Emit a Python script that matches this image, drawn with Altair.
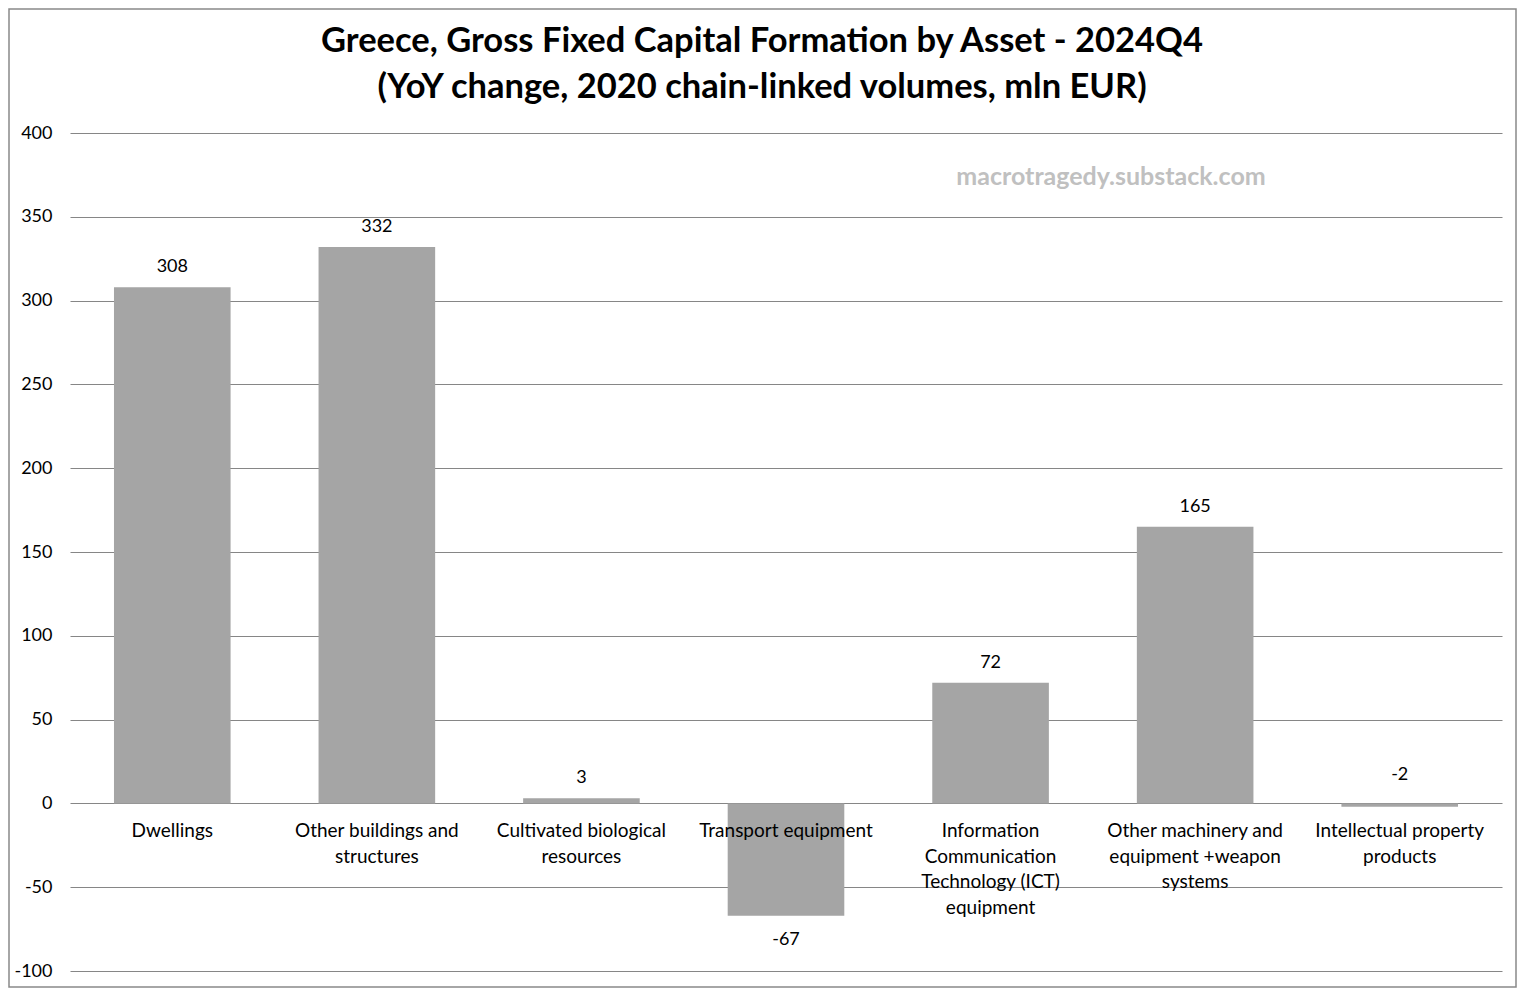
import altair as alt
import pandas as pd

categories = [
    "Dwellings",
    "Other buildings and\nstructures",
    "Cultivated biological\nresources",
    "Transport equipment",
    "Information\nCommunication\nTechnology (ICT)\nequipment",
    "Other machinery and\nequipment +weapon\nsystems",
    "Intellectual property\nproducts",
]
values = [308, 332, 3, -67, 72, 165, -2]
y_ticks = [-100, -50, 0, 50, 100, 150, 200, 250, 300, 350, 400]
title_line1 = "Greece, Gross Fixed Capital Formation by Asset - 2024Q4"
title_line2 = "(YoY change, 2020 chain-linked volumes, mln EUR)"
watermark = "macrotragedy.substack.com"

df = pd.DataFrame({"cat": categories, "value": values})

FONT = "Lato"
W, H = 1432, 838
PL, PT, PR, PB = 62, 125, 15, 17

x_enc = alt.X("cat:N", sort=categories, axis=None,
              scale=alt.Scale(paddingInner=0.43, paddingOuter=0.215))
y_scale = alt.Scale(domain=[-100, 400], nice=False, zero=False)

base = alt.Chart(df).transform_calculate(
    label="'' + datum.value",
    anchor="datum.value < 0 ? 5 : datum.value",
    zero="0",
)

bars = base.mark_bar(color="#a5a5a5").encode(
    x=x_enc,
    y=alt.Y("value:Q", scale=y_scale,
            axis=alt.Axis(values=y_ticks, title=None, grid=True, gridColor="#868686",
                          gridWidth=1, domain=False, ticks=False, labelPadding=18,
                          labelFontSize=18, labelColor="#000000", labelFont=FONT,
                          labelExpr="'' + datum.value")),
    y2=alt.Y2("zero:Q"),
)

lab_pos = base.transform_filter("datum.value > -10").mark_text(
    font=FONT, fontSize=18, color="#000000", baseline="middle", dy=-20
).encode(
    x=x_enc,
    y=alt.Y("anchor:Q"),
    text="label:N",
)

lab_neg = base.transform_filter("datum.value <= -10").mark_text(
    font=FONT, fontSize=18, color="#000000", baseline="middle", dy=24
).encode(
    x=x_enc,
    y=alt.Y("value:Q"),
    text="label:N",
)

cat_labels = base.mark_text(
    font=FONT, fontSize=19, color="#000000", baseline="top", align="center",
    lineBreak="\n", lineHeight=25.5, dy=19
).encode(
    x=x_enc,
    y=alt.Y("zero:Q"),
    text="cat:N",
)

t1 = alt.Chart(pd.DataFrame({"t": [title_line1]})).mark_text(
    font=FONT, fontSize=34.5, fontWeight="bold", color="#000000", align="center", baseline="middle"
).encode(x=alt.value(692), y=alt.value(-91), text="t:N")

t2 = alt.Chart(pd.DataFrame({"t": [title_line2]})).mark_text(
    font=FONT, fontSize=34.5, fontWeight="bold", color="#000000", align="center", baseline="middle"
).encode(x=alt.value(692), y=alt.value(-45), text="t:N")

wm = alt.Chart(pd.DataFrame({"t": [watermark]})).mark_text(
    font=FONT, fontSize=25, fontWeight="bold", color="#c0c0c0", align="center", baseline="middle"
).encode(x=alt.value(1041), y=alt.value(44), text="t:N")

border = alt.Chart(pd.DataFrame({"b": [1]})).mark_rect(
    filled=False, stroke="#898989", strokeWidth=1.5
).encode(
    x=alt.value(-PL + 1), x2=alt.value(W + PR - 1),
    y=alt.value(-PT + 1), y2=alt.value(H + PB - 1),
)

chart = alt.layer(bars, lab_pos, lab_neg, cat_labels, t1, t2, wm, border).properties(
    width=W, height=H,
    autosize=alt.AutoSizeParams(type="none"),
    padding={"left": PL, "top": PT, "right": PR, "bottom": PB},
    background="white",
).configure_view(stroke=None)

chart.save("out.html", embed_options={"renderer": "svg", "actions": False})
